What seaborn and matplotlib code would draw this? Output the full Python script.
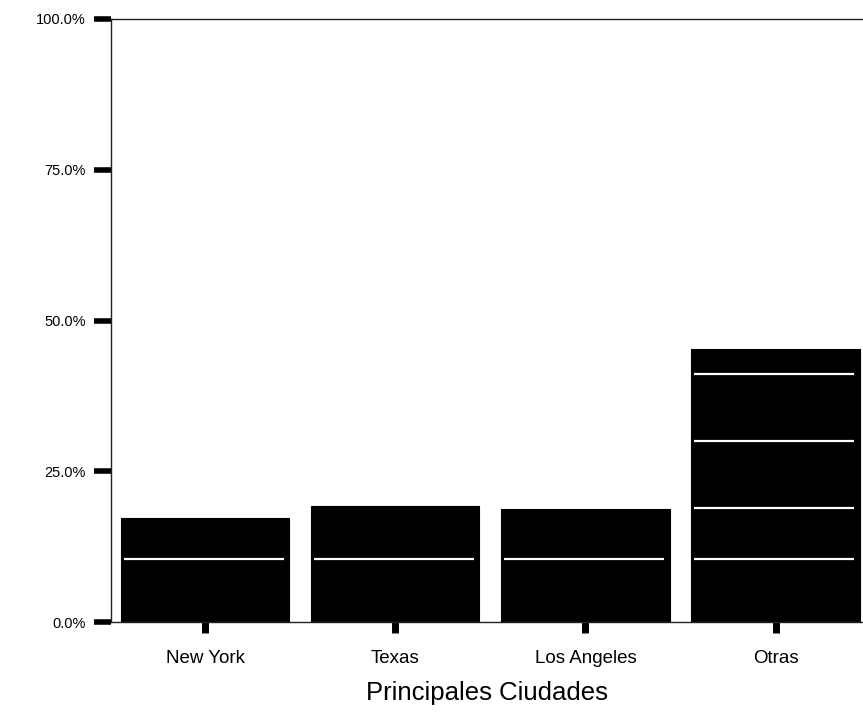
import matplotlib
matplotlib.use("Agg")
import matplotlib.pyplot as plt
import matplotlib.ticker as mticker
import seaborn as sns
import pandas as pd

# datos (porcentaje)
ciudades = ["New York", "Texas", "Los Angeles", "Otras"]
porcentajes = [17.3, 19.2, 18.7, 45.2]
# lineas blancas dentro de cada barra
lineas = [[10.5], [10.5], [10.5], [10.5, 18.9, 30.0, 41.1]]
yticks = [0, 25, 50, 75, 100]

df = pd.DataFrame({"Ciudad": ciudades, "Porcentaje": porcentajes})

sns.set_theme(style="white")
plt.rcParams["font.family"] = ["Liberation Sans", "DejaVu Sans"]
plt.rcParams["text.color"] = "black"
plt.rcParams["xtick.color"] = "black"
plt.rcParams["ytick.color"] = "black"
plt.rcParams["axes.labelcolor"] = "black"

fig = plt.figure(figsize=(8.63, 7.17), dpi=100)
ax = fig.add_axes([111 / 863, 95 / 717, 1 - 111 / 863, 603 / 717])

sns.barplot(data=df, x="Ciudad", y="Porcentaje", color="black", width=0.885,
            edgecolor="black", linewidth=0.8, saturation=1, ax=ax)

# lineas blancas sobre las barras
for bar, ys in zip(ax.patches, lineas):
    x0 = bar.get_x() + 0.015
    x1 = bar.get_x() + bar.get_width() - 0.03
    ax.hlines(ys, x0, x1, colors="white", linewidth=1.6, zorder=5)

ax.set_ylim(0, 100)
ax.set_xlim(-0.495, 3.46)
ax.set_yticks(yticks)
ax.yaxis.set_major_formatter(mticker.FuncFormatter(lambda v, p: f"{v:.1f}%"))

for side in ["left", "top", "bottom"]:
    ax.spines[side].set_color("#222222")
    ax.spines[side].set_linewidth(1.0)
ax.spines["right"].set_visible(False)

ax.tick_params(axis="y", which="major", direction="out", length=12, width=4,
               labelsize=10.5, pad=6, left=True)
ax.tick_params(axis="x", which="major", direction="out", length=8, width=5,
               labelsize=13.5, pad=12, bottom=True)

ax.set_ylabel("")
ax.set_xlabel("Principales Ciudades", fontsize=18.5, labelpad=10)

fig.savefig("out.png", dpi=100)
